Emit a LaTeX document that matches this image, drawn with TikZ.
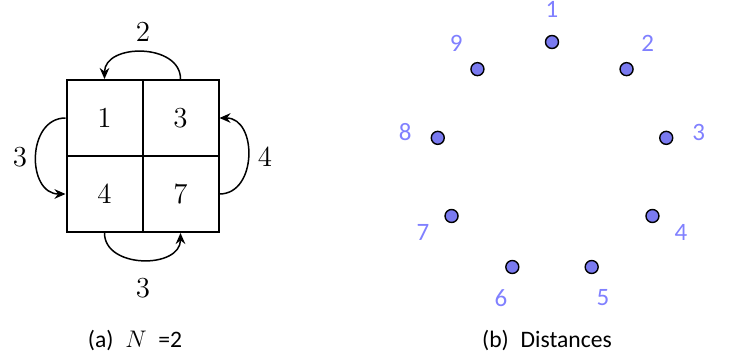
\documentclass[tikz,border=0pt]{standalone}
\usepackage{fontspec}
\newfontfamily\capfont{Carlito}
\usetikzlibrary{arrows.meta}
\definecolor{dotblue}{RGB}{122,122,240}
\definecolor{labblue}{RGB}{128,128,255}
\tikzset{
  cell/.style={draw, line width=1pt, minimum size=38pt, inner sep=0pt, font=\fontsize{14.5}{17}\selectfont},
  hop/.style={-{Stealth[length=5.5pt,width=4.8pt]}, line width=0.75pt},
  cost/.style={font=\fontsize{14.5}{17}\selectfont},
  site/.style={circle, draw, fill=dotblue, line width=0.7pt, minimum size=6.5pt, inner sep=0pt},
  sitelab/.style={text=labblue, font=\capfont\fontsize{12.5}{14}\selectfont},
  subcap/.style={anchor=base, font=\capfont\fontsize{11.8}{14}\selectfont}
}
\begin{document}
\begin{tikzpicture}[x=0.5pt, y=0.5pt]
  \useasboundingbox (0,0) rectangle (734,358);
  % (a) the 2x2 grid
  \node[cell] (c1) at (104.5,240) {1};
  \node[cell] (c3) at (180.5,240) {3};
  \node[cell] (c4) at (104.5,164) {4};
  \node[cell] (c7) at (180.5,164) {7};
  \draw[hop] (c3.north) .. controls +(0,36) and +(0,36) .. (c1.north);
  \draw[hop] (c1.west) .. controls +(-39,0) and +(-39,0) .. (c4.west);
  \draw[hop] (c7.east) .. controls +(38,0) and +(38,0) .. (c3.east);
  \draw[hop] (c4.south) .. controls +(0,-36) and +(0,-36) .. (c7.south);
  \node[cost] (wtop) at (143,326) {2};
  \node[cost] (wleft) at (20,201) {3};
  \node[cost] (wright) at (265,201) {4};
  \node[cost] (wbot) at (143,70) {3};
  \node[subcap] (capa) at (135,10) {(a)\hspace{0.5em}$N$\hspace{0.5em}=2};
  % (b) nine sites on a ring
  \coordinate (ring) at (552,200);
  \foreach \i in {1,...,9} {
    \pgfmathsetmacro\ang{90-(\i-1)*40}
    \node[site] (s\i) at ([shift={(\ang:116)}]ring) {};
    \node[sitelab] (l\i) at ([shift={(\ang:149)}]ring) {\i};
  }
  \node[subcap] (capb) at (547,10) {(b)\hspace{0.5em}Distances};
\end{tikzpicture}
\end{document}
